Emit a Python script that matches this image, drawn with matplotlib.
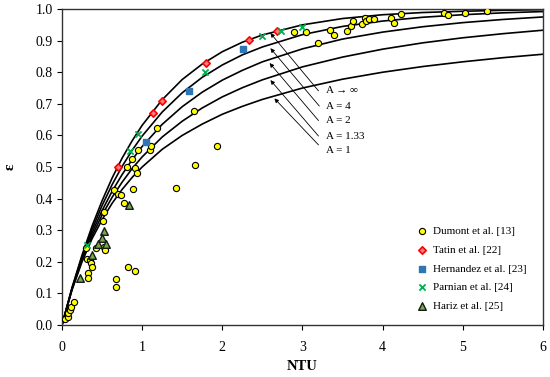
import numpy as np
import matplotlib
matplotlib.use("Agg")
import matplotlib.pyplot as plt

plt.rcParams['font.family'] = ['Liberation Serif', 'DejaVu Serif']

# model curves (counterflow)
ntu_curve = [0, 0.125, 0.25, 0.375, 0.5, 0.625, 0.75, 0.875, 1, 1.25, 1.5, 1.75, 2, 2.25,
             2.5, 3, 3.5, 4, 4.5, 5, 5.5, 6]
eps_inf = [0, 0.118, 0.221, 0.313, 0.393, 0.465, 0.528, 0.583, 0.632, 0.713, 0.777, 0.826,
           0.865, 0.895, 0.918, 0.950, 0.970, 0.982, 0.989, 0.993, 0.996, 0.998]
eps_a4 = [0, 0.116, 0.216, 0.302, 0.378, 0.444, 0.502, 0.553, 0.598, 0.674, 0.735, 0.784,
          0.823, 0.855, 0.880, 0.919, 0.945, 0.962, 0.974, 0.982, 0.988, 0.992]
eps_a2 = [0, 0.114, 0.210, 0.292, 0.362, 0.423, 0.476, 0.523, 0.565, 0.635, 0.691, 0.737,
          0.775, 0.806, 0.833, 0.874, 0.905, 0.927, 0.944, 0.957, 0.967, 0.975]
eps_a133 = [0, 0.113, 0.205, 0.282, 0.348, 0.404, 0.452, 0.495, 0.532, 0.595, 0.645, 0.687,
            0.722, 0.751, 0.776, 0.817, 0.848, 0.873, 0.893, 0.909, 0.922, 0.933]
eps_a1 = [0, 0.111, 0.200, 0.273, 0.333, 0.385, 0.429, 0.467, 0.500, 0.556, 0.600, 0.636,
          0.667, 0.692, 0.714, 0.750, 0.778, 0.800, 0.818, 0.833, 0.846, 0.857]
curve_labels = ["A \u2192 \u221e", "A = 4", "A = 2", "A = 1.33", "A = 1"]

# experimental data
dumont_ntu = [0.04, 0.07, 0.08, 0.10, 0.11, 0.15, 0.30, 0.31, 0.35, 0.36, 0.38, 0.33, 0.33,
              0.43, 0.52, 0.54, 0.51, 0.52, 0.65, 0.70, 0.74, 0.77, 0.89, 0.68, 0.68, 0.82,
              0.91, 0.81, 0.87, 0.91, 0.93, 0.95, 1.10, 1.11, 1.18, 1.42, 1.65, 1.66, 1.93,
              2.90, 3.05, 3.19, 3.34, 3.39, 3.56, 3.60, 3.63, 3.74, 3.78, 3.79, 3.83, 3.89,
              4.10, 4.14, 4.23, 4.77, 4.82, 5.03, 5.30]
dumont_eps = [0.018, 0.024, 0.037, 0.047, 0.058, 0.074, 0.243, 0.21, 0.206, 0.195, 0.185, 0.163, 0.148,
              0.245, 0.248, 0.237, 0.33, 0.359, 0.427, 0.415, 0.41, 0.385, 0.429, 0.145, 0.12, 0.183,
              0.172, 0.50, 0.524, 0.497, 0.48, 0.555, 0.554, 0.567, 0.625, 0.432, 0.678, 0.505, 0.567,
              0.927, 0.927, 0.891, 0.935, 0.919, 0.930, 0.946, 0.962, 0.953, 0.973, 0.961, 0.970, 0.967,
              0.973, 0.957, 0.983, 0.986, 0.981, 0.986, 0.994]
tatin_ntu = [0.70, 1.13, 1.25, 1.80, 2.33, 2.68]
tatin_eps = [0.50, 0.672, 0.71, 0.83, 0.902, 0.932]
hern_ntu = [1.05, 1.59, 2.26]
hern_eps = [0.58, 0.74, 0.872]
parn_ntu = [0.31, 0.85, 0.95, 1.79, 2.50, 2.73, 3.00]
parn_eps = [0.253, 0.551, 0.603, 0.80, 0.916, 0.930, 0.942]
hariz_ntu = [0.225, 0.37, 0.52, 0.50, 0.45, 0.55, 0.83]
hariz_eps = [0.150, 0.22, 0.298, 0.275, 0.256, 0.256, 0.38]

fig = plt.figure(figsize=(5.5, 3.77), dpi=100)
ax = fig.add_axes([0.1127, 0.138, 0.8745, 0.838])

for eps in [eps_inf, eps_a4, eps_a2, eps_a133, eps_a1]:
    ax.plot(ntu_curve, eps, color='black', lw=1.2, zorder=2)

ax.scatter(dumont_ntu, dumont_eps, s=20, c='#ffff00', edgecolors='black', linewidths=0.8,
           zorder=3, label='Dumont et al. [13]')
ax.scatter(tatin_ntu, tatin_eps, s=14, marker='D', c='#f28080', edgecolors='#ff0000',
           linewidths=1.2, zorder=4, label='Tatin et al. [22]')
ax.scatter(hern_ntu, hern_eps, s=18, marker='s', c='#2e75b6', edgecolors='#2e75b6',
           zorder=4, label='Hernandez et al. [23]')
ax.scatter(parn_ntu, parn_eps, s=20, marker='x', c='#00b050', linewidths=1.3,
           zorder=4, label='Parnian et al. [24]')
ax.scatter(hariz_ntu, hariz_eps, s=30, marker='^', c='#70ad47', edgecolors='#1a1a1a',
           linewidths=1.0, zorder=4, label='Hariz et al. [25]')

# curve annotations
heads = [(2.60, 0.924), (2.60, 0.876), (2.59, 0.829), (2.60, 0.775), (2.65, 0.717)]
tails = [(3.20, 0.741), (3.21, 0.693), (3.20, 0.647), (3.20, 0.598), (3.20, 0.570)]
text_y = [0.741, 0.693, 0.647, 0.598, 0.552]
for lab, h, t, ty in zip(curve_labels, heads, tails, text_y):
    ax.annotate('', xy=h, xytext=t,
                arrowprops=dict(arrowstyle='-|>', color='black', lw=0.6, mutation_scale=6,
                                shrinkA=0, shrinkB=0))
    ax.text(3.29, ty, lab, fontsize=8, ha='left', va='center')

ax.set_xlim(0, 6)
ax.set_ylim(0, 1.0)
ax.set_xticks(range(0, 7))
ax.set_yticks(np.arange(0, 1.01, 0.1))
ax.set_yticklabels([f"{v:.1f}" for v in np.arange(0, 1.01, 0.1)])
ax.tick_params(direction='out', length=3.5, width=0.8, labelsize=10, colors='black')
ax.tick_params(axis='x', pad=8)
ax.tick_params(axis='y', pad=3)
for sp in ax.spines.values():
    sp.set_linewidth(1.0)
    sp.set_color('#333333')

ax.set_xlabel('NTU', fontsize=10.5, fontweight='bold', labelpad=4)
ax.set_ylabel('\u03b5', fontsize=11, fontweight='bold', labelpad=14)

ax.legend(loc='lower right', bbox_to_anchor=(0.975, 0.03), frameon=False, fontsize=8,
          handletextpad=0.5, labelspacing=0.8, handlelength=1.0, borderaxespad=0)

fig.savefig('out.png', dpi=100)
